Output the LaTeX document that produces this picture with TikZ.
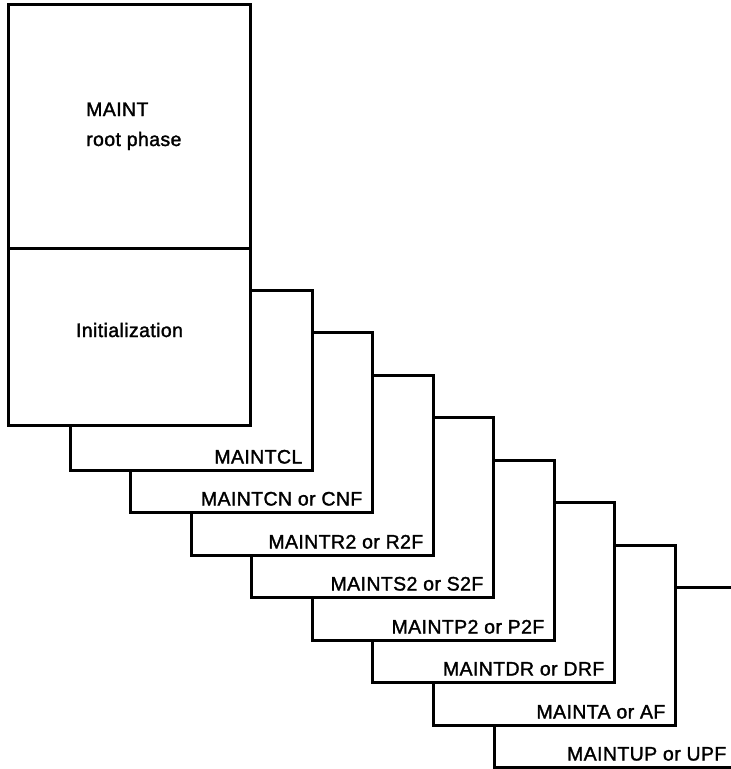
\documentclass[tikz,border=0pt]{standalone}
\usepackage{fontspec}
\setmainfont{Liberation Sans}[FakeBold=1.6, LetterSpace=2]
\begin{document}
\begin{tikzpicture}[x=1pt,y=-1pt,
  frame/.style={draw=black, fill=white, line width=3pt, inner sep=0pt, outer sep=0pt, anchor=north west},
  overlay/.style={frame, minimum width=242pt, minimum height=180pt},
  tag/.style={anchor=base east, inner sep=0pt, font=\fontsize{19.5}{23}\selectfont},
  caption/.style={inner sep=0pt, font=\fontsize{19.5}{23}\selectfont},
]
\useasboundingbox (0,0) rectangle (731,769);
\clip (0,0) rectangle (731,769);

% overlay phases, stacked from the back to the front
\foreach \i/\x/\y/\txt in {7/494.5/587.5/MAINTUP or UPF, 6/433.5/545.5/MAINTA or AF,
                           5/372.5/502.5/MAINTDR or DRF, 4/312.5/460.5/MAINTP2 or P2F,
                           3/251.5/417.5/MAINTS2 or S2F, 2/191.5/375.5/MAINTR2 or R2F,
                           1/130.5/332.5/MAINTCN or CNF, 0/70.5/290.5/MAINTCL} {
  \node[overlay] (ov\i) at (\x,\y) {};
  \node[tag] (lab\i) at ([xshift=-10pt,yshift=7pt]ov\i.south east) {\txt};
}

% root phase with its initialization part
\node[frame, minimum width=242pt, minimum height=244pt] (root) at (8.5,4.5) {};
\node[frame, minimum width=242pt, minimum height=177pt] (init) at (8.5,248.5) {};

\node[caption, anchor=base west] (maintlabel) at (86,116) {MAINT};
\node[caption, anchor=base west] (rootlabel) at (86,146) {root phase};
\node[caption, anchor=base] (initlabel) at (129.5,337) {Initialization};
\end{tikzpicture}
\end{document}
